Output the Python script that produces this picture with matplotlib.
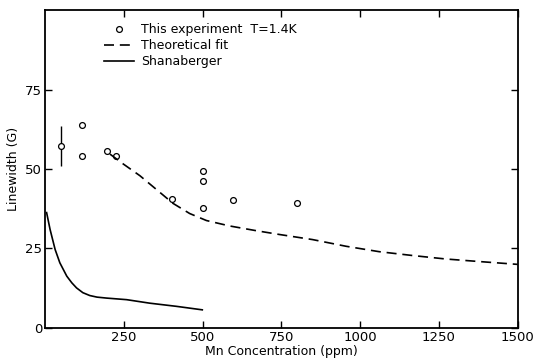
import matplotlib.pyplot as plt

# measured linewidths (this experiment, T=1.4K)
conc = [50, 117, 117, 196, 225, 402, 500, 500, 500, 598, 800]
width = [57.3, 63.9, 54.0, 55.7, 54.0, 40.5, 49.4, 46.2, 37.6, 40.2, 39.2]
err_conc = [50]
err_width = [57.3]
err_size = [6.2]

# theoretical fit (dashed)
fit_x = [206, 248, 301, 353, 406, 459, 512, 585, 670, 744, 849, 955, 1060, 1165, 1271, 1377, 1500]
fit_y = [54.7, 51.6, 47.9, 43.6, 39.2, 36.0, 33.8, 32.1, 30.6, 29.4, 27.8, 25.7, 24.0, 22.8, 21.7, 20.9, 20.0]

# Shanaberger (solid)
sh_x = [5, 16, 32, 47, 69, 85, 100, 120, 142, 165, 195, 259, 332, 417, 499]
sh_y = [36.3, 31.0, 24.7, 20.5, 16.3, 14.2, 12.6, 11.1, 10.2, 9.7, 9.4, 8.9, 7.8, 6.8, 5.7]

plt.rcParams['font.family'] = ['DejaVu Sans']
fig = plt.figure(figsize=(5.36, 3.6), dpi=100)
ax = fig.add_axes([0.084, 0.089, 0.882, 0.883])

ax.errorbar(err_conc, err_width, yerr=err_size, fmt='none', ecolor='black', elinewidth=1.0, capsize=0)
ax.plot(conc, width, 'o', mfc='white', mec='black', ms=4.2, mew=0.9, ls='none',
        label='This experiment  T=1.4K')
ax.plot(fit_x, fit_y, color='black', lw=1.2, dashes=(6, 3.5), label='Theoretical fit')
ax.plot(sh_x, sh_y, color='black', lw=1.2, label='Shanaberger')

ax.set_xlim(0, 1500)
ax.set_ylim(0, 100)
ax.set_xticks([250, 500, 750, 1000, 1250, 1500])
ax.set_yticks([0, 25, 50, 75])
ax.tick_params(direction='in', length=5, width=1, labelsize=9.5, pad=2)
ax.tick_params(top=True, right=True, labeltop=False, labelright=False)
for s in ax.spines.values():
    s.set_linewidth(1.3)

ax.set_xlabel('Mn Concentration (ppm)', fontsize=9, labelpad=1)
ax.set_ylabel('Linewidth (G)', fontsize=9, labelpad=4)

ax.legend(loc='upper left', bbox_to_anchor=(0.115, 0.975), frameon=False, fontsize=9,
          handlelength=2.4, handletextpad=0.5, labelspacing=0.25, borderaxespad=0)

plt.savefig('out.png', dpi=100)
